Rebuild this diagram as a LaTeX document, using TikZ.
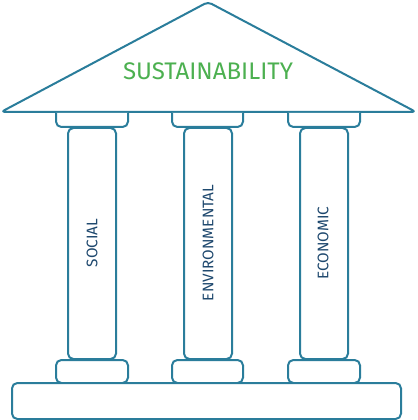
\documentclass[tikz,border=0pt]{standalone}
\usepackage{fontspec}
\setmainfont{Fira Sans}
\usepackage{tikz}

\definecolor{pillar}{RGB}{42,125,155}
\definecolor{sustgreen}{RGB}{76,176,80}
\definecolor{labelblue}{RGB}{30,72,110}

\begin{document}
\begin{tikzpicture}[x=0.75pt,y=0.75pt,yscale=-1,xscale=1,
  part/.style={draw=pillar, line width=1.5pt, rounded corners=4pt, fill=white},
  pillarlabel/.style={text=labelblue, font=\fontsize{11.5}{13}\selectfont, rotate=90, inner sep=0.75pt}]
\useasboundingbox (0,0) rectangle (417,420);

%Roof
\draw [part, rounded corners=3pt, line join=round] (208,2) -- (416,112) -- (1,112) -- cycle ;
%Capitals (top)
\draw [part] (56,113) -- (56,127) -- (128,127) -- (128,113) ;
\draw [part] (172,113) -- (172,127) -- (243,127) -- (243,113) ;
\draw [part] (288,113) -- (288,127) -- (360,127) -- (360,113) ;
%Shafts
\draw [part] (68,128) rectangle (116,359) ;
\draw [part] (184,128) rectangle (232,359) ;
\draw [part] (300,128) rectangle (348,359) ;
%Capitals (bottom)
\draw [part] (56,360) rectangle (128,383) ;
\draw [part] (172,360) rectangle (243,383) ;
\draw [part] (288,360) rectangle (360,383) ;
%Base
\draw [part] (12,383) rectangle (401,419) ;

% Text Node
\node (sust) at (208,71) [text=sustgreen, font=\fontsize{18}{22}\selectfont] {SUSTAINABILITY};
% Text Node
\node (social) at (92,243) [pillarlabel] {SOCIAL};
% Text Node
\node (env) at (208,243) [pillarlabel] {ENVIRONMENTAL};
% Text Node
\node (econ) at (323,243) [pillarlabel] {ECONOMIC};

\end{tikzpicture}
\end{document}
